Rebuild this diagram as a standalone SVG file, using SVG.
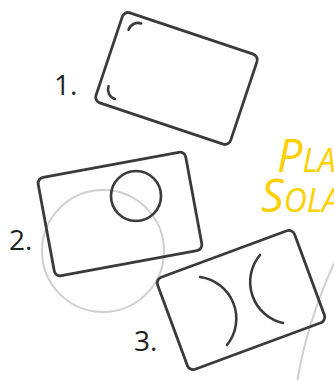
<svg xmlns="http://www.w3.org/2000/svg" width="334" height="380" viewBox="0 0 334 380">
<style>
.card{fill:none;stroke:#3a3a3a;stroke-width:2.8;stroke-linejoin:round}
.mark{fill:none;stroke:#3a3a3a;stroke-width:2.6;stroke-linecap:round}
.num{font-family:"Open Sans","Noto Sans",sans-serif;font-size:28px;fill:#222}
.guide{fill:none;stroke:#cfcfcf;stroke-width:2}
.title{font-family:"Open Sans","Noto Sans",sans-serif;font-style:italic;fill:#fdd000}
.big{font-size:45px}
.small{font-size:32px}
</style>
<rect width="334" height="380" fill="#fff"/>
<g id="guides">
<circle class="guide" cx="103" cy="251" r="61"/>
<path class="guide" d="M336,259 Q307.5,319.5 297,382"/>
</g>
<g id="card1">
<g transform="translate(176.5,78.5) rotate(18.5)">
<rect class="card" x="-71" y="-47.5" width="142" height="95" rx="6"/>
<path class="mark" d="M-61,-31 A10 10 0 0 1 -51,-41"/>
<path class="mark" d="M-62,29 A10 10 0 0 0 -52,39"/>
</g>
<text class="num" x="54" y="95">1.</text>
</g>
<g id="card2">
<g transform="translate(120,214) rotate(-10.5)">
<rect class="card" x="-75" y="-50" width="150" height="100" rx="6"/>
</g>
<circle class="mark" cx="136" cy="196" r="25"/>
<text class="num" x="9" y="250">2.</text>
</g>
<g id="card3">
<g transform="translate(241,300) rotate(-20.3)">
<rect class="card" x="-73" y="-49" width="146" height="98" rx="6"/>
</g>
<path class="mark" d="M200,277 A42 42 0 0 1 227,345"/>
<path class="mark" d="M260,255 A42 42 0 0 0 283,323"/>
<text class="num" x="134" y="351">3.</text>
</g>
<g id="title">
<text class="title" x="277" y="172"><tspan class="big">P</tspan><tspan class="small">LA</tspan></text>
<text class="title" x="261" y="212"><tspan class="big">S</tspan><tspan class="small">OLA</tspan></text>
</g>
<g id="connectors"/>
</svg>
